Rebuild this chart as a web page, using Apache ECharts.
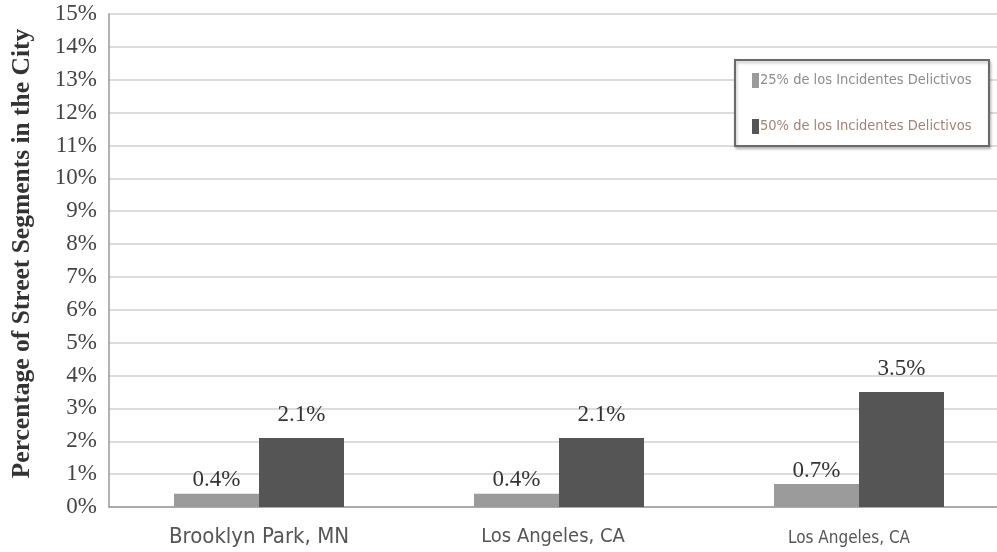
<!DOCTYPE html>
<html>
<head>
<meta charset="utf-8">
<script src="https://cdn.jsdelivr.net/npm/echarts@6/dist/echarts.min.js"></script>
<style>
  html, body { margin: 0; padding: 0; background: #fff; }
  #chart { width: 997px; height: 552px; }
</style>
</head>
<body>
<div id="chart"></div>
<script>
// Share of street segments accounting for 25% / 50% of crime incidents
var categories = ['Brooklyn Park, MN', 'Los Angeles, CA', 'Los Angeles, CA'];
var seriesNames = ['25% de los Incidentes Delictivos', '50% de los Incidentes Delictivos'];
var share25 = [0.4, 0.4, 0.7];
var share50 = [2.1, 2.1, 3.5];
var yMin = 0, yMax = 15, yStep = 1;

var chart = echarts.init(document.getElementById('chart'));

var serif = '"Liberation Serif", "DejaVu Serif", serif';
var narrow = '"DejaVu Sans Condensed", "Liberation Sans Narrow", "Liberation Sans", sans-serif';

// per-category label sizing
var catStyles = [
  {},
  { fontSize: 20, padding: [1, 12, 0, 0] },
  { fontSize: 17, padding: [4, 20, 0, 0] }
];
var catData = categories.map(function (c, i) {
  return { value: c, textStyle: catStyles[i] };
});

function valueLabel(dist) {
  return {
    show: true,
    position: 'top',
    distance: dist,
    fontFamily: serif,
    fontSize: 23,
    color: '#333',
    formatter: function (p) { return p.value.toFixed(1) + '%'; }
  };
}

chart.setOption({
  animation: false,
  grid: { left: 109, width: 900, top: 14, bottom: 45, containLabel: false, outerBoundsMode: 'none' },
  graphic: [{
    type: 'rect',
    shape: { x: 735, y: 60, width: 254, height: 86 },
    style: { fill: '#fff', stroke: '#6a6a6a', lineWidth: 2, shadowBlur: 3, shadowOffsetX: 1, shadowOffsetY: 2, shadowColor: 'rgba(0,0,0,0.25)' },
    z: 5
  }],
  legend: {
    orient: 'vertical',
    left: 747,
    top: 68,
    itemGap: 31,
    itemWidth: 7,
    itemHeight: 15,
    z: 10,
    textStyle: { fontFamily: narrow, fontSize: 14.5, padding: [0, 0, 0, -4] },
    icon: 'rect',
    data: [
      { name: seriesNames[0], textStyle: { color: '#8c8c8c' } },
      { name: seriesNames[1], textStyle: { color: '#a08478' } }
    ]
  },
  xAxis: {
    type: 'category',
    data: catData,
    axisLine: { lineStyle: { color: '#999', width: 1.5 } },
    axisTick: { show: false },
    axisLabel: { fontFamily: narrow, fontSize: 22, color: '#555', margin: 19 }
  },
  yAxis: {
    type: 'value',
    min: yMin,
    max: yMax,
    interval: yStep,
    name: 'Percentage of Street Segments in the City',
    nameLocation: 'middle',
    nameGap: 74,
    nameTextStyle: { fontFamily: serif, fontSize: 25.5, fontWeight: 'bold', color: '#333', padding: [0, 0, 0, 14] },
    axisLine: { show: true, lineStyle: { color: '#999', width: 1.5 } },
    axisTick: { show: false },
    axisLabel: {
      fontFamily: serif, fontSize: 23, color: '#444', margin: 12,
      formatter: function (v) { return v + '%'; }
    },
    splitLine: { lineStyle: { color: '#d0d0d0', width: 1.5 } }
  },
  series: [
    {
      name: seriesNames[0],
      type: 'bar',
      data: share25,
      barWidth: 85,
      barGap: '0%',
      itemStyle: { color: '#9b9b9b' },
      label: valueLabel(2)
    },
    {
      name: seriesNames[1],
      type: 'bar',
      data: share50,
      barWidth: 85,
      itemStyle: { color: '#555555' },
      label: valueLabel(12)
    }
  ]
});
</script>
</body>
</html>
